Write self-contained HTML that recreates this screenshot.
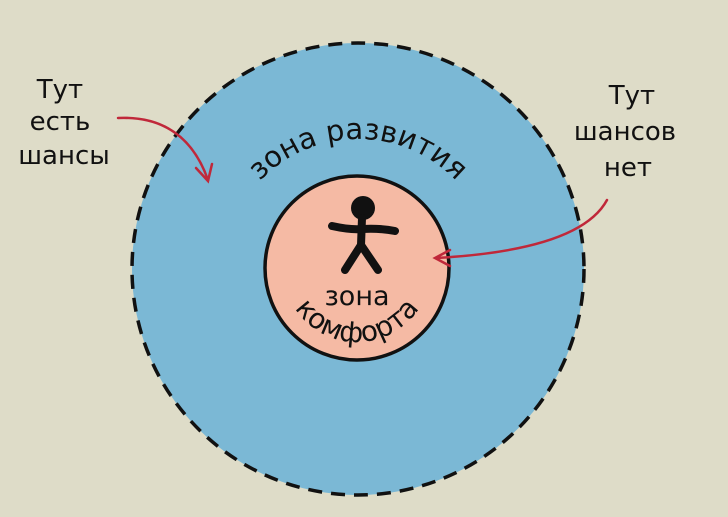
<!DOCTYPE html>
<html><head><meta charset="utf-8"><style>
html,body{margin:0;padding:0;background:#dedcc8;}
svg{display:block}
text{font-family:"DejaVu Sans","Liberation Sans",sans-serif;fill:#111;}
</style></head><body>
<svg width="728" height="517" viewBox="0 0 728 517">
<rect width="728" height="517" fill="#dedcc8"/>
<circle cx="358" cy="269" r="226" fill="#7bb8d5" stroke="#111" stroke-width="3.5" stroke-dasharray="14 9"/>
<circle cx="357" cy="268" r="92" fill="#f5baa4" stroke="#111" stroke-width="3.5"/>
<defs>
<path id="top" d="M 222,275 A 136 136 0 0 1 494,275"/>
<path id="bot" d="M 283,268 A 74 74 0 0 0 431,268"/>
</defs>
<text font-size="29"><textPath href="#top" startOffset="50%" text-anchor="middle">зона развития</textPath></text>
<text font-size="27" x="357" y="305" text-anchor="middle">зона</text>
<text font-size="28"><textPath href="#bot" startOffset="50%" text-anchor="middle">комфорта</textPath></text>
<circle cx="363" cy="208" r="12" fill="#111"/>
<g stroke="#111" stroke-width="8" stroke-linecap="round" fill="none">
<path d="M362 218 L361 245"/>
<path d="M332 226 Q350 230 362 229 Q380 228 395 231"/>
<path d="M361 245 L345 270"/>
<path d="M361 245 L378 270"/>
</g>
<text font-size="26" x="60" y="98" text-anchor="middle">Тут</text>
<text font-size="26" x="60" y="130" text-anchor="middle">есть</text>
<text font-size="26" x="64" y="164" text-anchor="middle">шансы</text>
<text font-size="26" x="632" y="104" text-anchor="middle">Тут</text>
<text font-size="26" x="625" y="140" text-anchor="middle">шансов</text>
<text font-size="26" x="628" y="176" text-anchor="middle">нет</text>
<g stroke="#c0283a" stroke-width="2.5" fill="none" stroke-linecap="round">
<path d="M118 118 Q185 115 208 180"/>
<path d="M196 168 L208 181 L212 164"/>
<path d="M607 200 Q580 250 436 258"/>
<path d="M450 250 L435 258 L450 266"/>
</g>
</svg>
</body></html>
